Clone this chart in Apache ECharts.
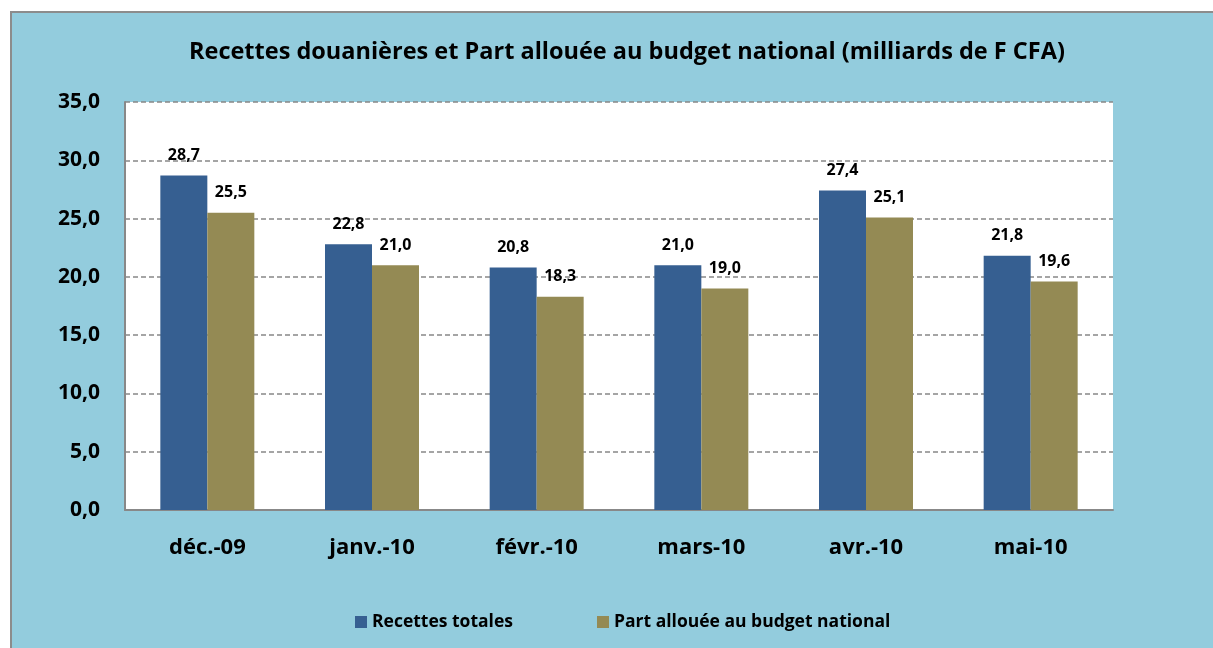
<!DOCTYPE html>
<html><head><meta charset="utf-8">
<script src="https://cdn.jsdelivr.net/npm/echarts@6/dist/echarts.min.js"></script>
<style>html,body{margin:0;padding:0;background:#fff}#c{width:1213px;height:648px}</style>
</head><body><div id="c"></div>
<script>
const categories = ['déc.-09','janv.-10','févr.-10','mars-10','avr.-10','mai-10'];
const recettesTotales = [28.7, 22.8, 20.8, 21.0, 27.4, 21.8];
const partAllouee = [25.5, 21.0, 18.3, 19.0, 25.1, 19.6];
const seriesNames = ['Recettes totales','Part allouée au budget national'];
const FONT = 'Open Sans';
const fmt = v => v.toFixed(1).replace('.', ',');
const chart = echarts.init(document.getElementById('c'));
chart.setOption({
  animation:false,
  backgroundColor:'#fff',
  graphic:[{type:'rect',z:-10,shape:{x:11,y:12,width:1210,height:650},style:{fill:'#93CCDD',stroke:'#8c8c8c',lineWidth:2}}],
  title:{text:'Recettes douanières et Part allouée au budget national (milliards de F CFA)',left:184,top:35,
    textStyle:{fontFamily:FONT,fontWeight:'bold',fontSize:23.5,color:'#000'}},
  grid:{left:125,right:100,top:102,bottom:138,show:true,backgroundColor:'#fff',borderWidth:0},
  legend:{bottom:12,left:350,itemGap:84,itemWidth:12,itemHeight:12,icon:'rect',
    textStyle:{fontFamily:FONT,fontWeight:'bold',fontSize:17.5,color:'#000'},data:seriesNames},
  xAxis:{type:'category',data:categories,axisTick:{show:false},
    axisLine:{lineStyle:{color:'#888',width:2}},
    axisLabel:{fontFamily:FONT,fontWeight:'bold',fontSize:22,color:'#000',margin:27}},
  yAxis:{type:'value',min:0,max:35,interval:5,
    axisLine:{show:true,lineStyle:{color:'#888',width:2}},axisTick:{show:false},
    splitLine:{lineStyle:{color:'#888',type:[5,3],width:1.5}},
    axisLabel:{fontFamily:FONT,fontWeight:'bold',fontSize:21,color:'#000',margin:25,formatter:fmt}},
  series:[
    {name:seriesNames[0],type:'bar',data:recettesTotales,barWidth:47,barGap:'0%',itemStyle:{color:'#365F91'},
      label:{show:true,position:'top',distance:12,formatter:p=>fmt(p.value),fontFamily:FONT,fontWeight:'bold',fontSize:16,color:'#000'}},
    {name:seriesNames[1],type:'bar',data:partAllouee,barWidth:47,itemStyle:{color:'#948A54'},
      label:{show:true,position:'top',distance:12,formatter:p=>fmt(p.value),fontFamily:FONT,fontWeight:'bold',fontSize:16,color:'#000'}}
  ]
});
</script></body></html>
